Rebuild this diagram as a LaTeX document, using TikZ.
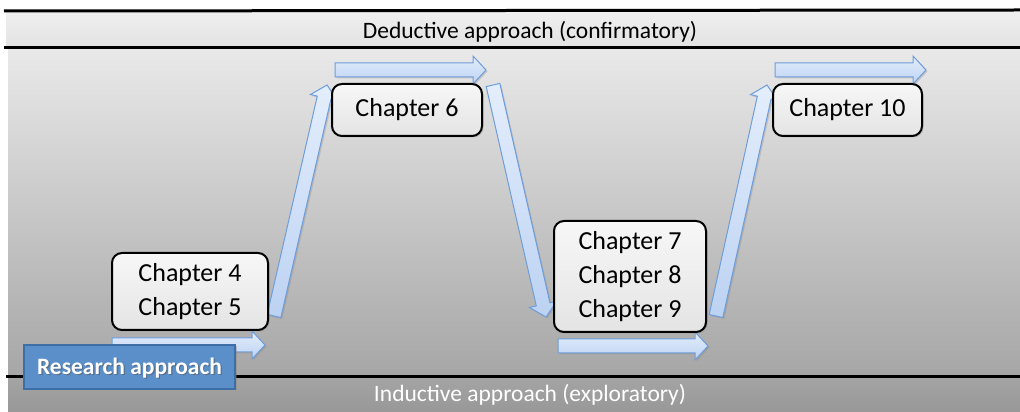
\documentclass[tikz,border=0pt]{standalone}
\usepackage{fontspec}
\setmainfont{Carlito}
\usetikzlibrary{calc,shadows}

\definecolor{bandtop}{HTML}{F0F0F0}
\definecolor{bandtopb}{HTML}{E2E2E2}
\definecolor{midtop}{HTML}{E9E9E9}
\definecolor{midbot}{HTML}{A6A6A6}
\definecolor{lowtop}{HTML}{A4A4A4}
\definecolor{lowbot}{HTML}{989898}
\definecolor{arrowtop}{HTML}{E4EEFC}
\definecolor{arrowbot}{HTML}{BCD2F2}
\definecolor{arrowline}{HTML}{6E9DDB}
\definecolor{boxtop}{HTML}{F7F7F7}
\definecolor{boxbot}{HTML}{E4E4E4}
\definecolor{rafill}{HTML}{5B8FC9}
\definecolor{raline}{HTML}{3E6EA6}

\tikzset{
  chapter/.style={draw=black, line width=2pt, rounded corners=10pt,
    top color=boxtop, bottom color=boxbot, align=center, inner sep=0pt,
    font=\fontsize{26}{34}\selectfont,
    drop shadow={shadow xshift=1.5pt, shadow yshift=-1.5pt, opacity=.35}},
  arrowbody/.style={draw=arrowline, line width=1pt, top color=arrowtop,
    bottom color=arrowbot,
    drop shadow={shadow xshift=1.5pt, shadow yshift=-1.5pt, opacity=.3}},
  bandline/.style={line width=3pt, black},
}

% block arrow from #1 to #2 (shaft half width 7, head half width 14)
\newcommand\blockarrow[2]{%
  \path ($(#2)!13pt!(#1)$) coordinate (#1-neck);
  \path[arrowbody] ($(#1)!7pt!90:(#2)$) -- ($(#1-neck)!7pt!90:(#2)$)
    -- ($(#1-neck)!14pt!90:(#2)$) -- (#2)
    -- ($(#1-neck)!14pt!-90:(#2)$) -- ($(#1-neck)!7pt!-90:(#2)$)
    -- ($(#1)!7pt!-90:(#2)$) -- cycle;
}

\begin{document}
\begin{tikzpicture}[x=1pt,y=1pt]
  \useasboundingbox (0,0) rectangle (1020,412);
  \fill[white] (0,0) rectangle (1020,412);

  % bands
  \shade[top color=bandtop, bottom color=bandtopb] (6,364) rectangle (1020,401);
  \shade[top color=midtop, bottom color=midbot] (8,35) rectangle (1020,364);
  \shade[top color=lowtop, bottom color=lowbot] (8,0) rectangle (1020,35);
  \draw[bandline] (4,401) -- (1020,402);
  \draw[bandline] (4,364) -- (1020,364);
  \draw[bandline] (6,35) -- (1020,35);

  \node (deductive) at (530,380) {\fontsize{23.5}{26}\selectfont Deductive approach (confirmatory)};
  \node[text=white] (inductive) at (530,17) {\fontsize{23.5}{26}\selectfont Inductive approach (exploratory)};

  % arrow end points
  \coordinate (a1s) at (112,67);  \coordinate (a1e) at (265,67);
  \coordinate (a2s) at (274,96);  \coordinate (a2e) at (327,327);
  \coordinate (a3s) at (335,342); \coordinate (a3e) at (486,342);
  \coordinate (a4s) at (493,327); \coordinate (a4e) at (546,95);
  \coordinate (a5s) at (558,66);  \coordinate (a5e) at (708,66);
  \coordinate (a6s) at (716,96);  \coordinate (a6e) at (767,327);
  \coordinate (a7s) at (775,342); \coordinate (a7e) at (926,342);

  \blockarrow{a1s}{a1e}
  \blockarrow{a2s}{a2e}
  \blockarrow{a3s}{a3e}
  \blockarrow{a4s}{a4e}
  \blockarrow{a5s}{a5e}
  \blockarrow{a6s}{a6e}
  \blockarrow{a7s}{a7e}

  % chapter boxes
  \node[chapter, minimum width=156pt, minimum height=77pt] (ch45) at (190,120.5) {Chapter 4\\Chapter 5};
  \node[chapter, minimum width=150pt, minimum height=52pt] (ch6) at (407,302) {Chapter 6};
  \node[chapter, minimum width=152pt, minimum height=111pt] (ch789) at (630,135.5) {Chapter 7\\Chapter 8\\Chapter 9};
  \node[chapter, minimum width=149pt, minimum height=52pt] (ch10) at (847.5,302) {Chapter 10};

  % label box
  \node[draw=raline, line width=1.5pt, fill=rafill, minimum width=211pt,
        minimum height=44pt, inner sep=0pt,
        drop shadow={shadow xshift=1.5pt, shadow yshift=-1.5pt, opacity=.35}]
        (research) at (129.5,45) {};
  \node[text=black!70, opacity=.5] at ($(research.center)+(1.2,-2.2)$)
        {\fontsize{23.5}{26}\selectfont\bfseries Research approach};
  \node[text=white] (researchlabel) at ($(research.center)+(0,-1)$)
        {\fontsize{23.5}{26}\selectfont\bfseries Research approach};
\end{tikzpicture}
\end{document}
